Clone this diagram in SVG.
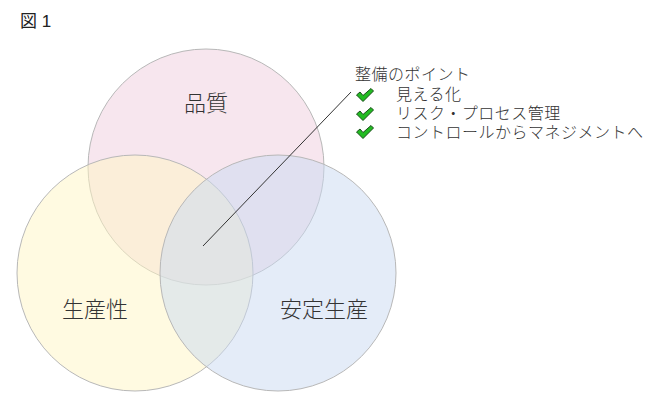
<svg xmlns="http://www.w3.org/2000/svg" width="660" height="410" viewBox="0 0 660 410">
<defs>
<style>
.c{stroke:#b8b8b8;stroke-width:1;fill-opacity:0.5}
.t{font-family:"Noto Sans CJK JP","Noto Sans",sans-serif;fill:#333;font-weight:300}
.big{font-size:22px;text-anchor:middle}
.sm{font-size:16px;letter-spacing:0.5px}
.chk{fill:#22bb22;stroke:#1a4d1a;stroke-width:1;stroke-linejoin:round}
</style>
<symbol id="check" viewBox="0 0 20 16">
<path class="chk" d="M1.5,8 L5,5 L8,8.5 L16,1.5 L18.5,4 L8,14.5 Z"/>
</symbol>
</defs>
<rect width="660" height="410" fill="#fff"/>
<text x="20" y="27" font-family="'Liberation Sans','Noto Sans CJK JP',sans-serif" font-size="17" fill="#222">図 1</text>
<g id="quality">
<circle class="c" cx="206" cy="167" r="118" fill="#efcddd"/>
<text class="t big" x="206" y="111">品質</text>
</g>
<g id="productivity">
<circle class="c" cx="135" cy="273" r="118" fill="#fff5c3"/>
<text class="t big" x="95" y="317">生産性</text>
</g>
<g id="stable">
<circle class="c" cx="278" cy="273" r="118" fill="#c9d9f1"/>
<text class="t big" x="324" y="317">安定生産</text>
</g>
<g id="connectors">
<line x1="203" y1="246" x2="351" y2="92" stroke="#333" stroke-width="1"/>
</g>
<g id="points">
<text class="t sm" x="355" y="80">整備のポイント</text>
<use href="#check" x="355" y="87" width="20" height="16"/>
<text class="t sm" x="396" y="100">見える化</text>
<use href="#check" x="355" y="106" width="20" height="16"/>
<text class="t sm" x="396" y="119">リスク・プロセス管理</text>
<use href="#check" x="355" y="124" width="20" height="16"/>
<text class="t sm" x="396" y="138">コントロールからマネジメントへ</text>
</g>
</svg>
